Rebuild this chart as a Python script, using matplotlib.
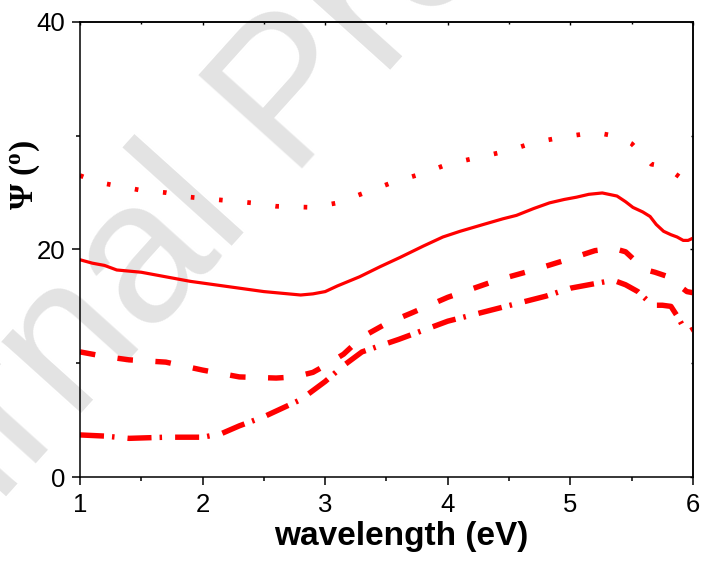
import matplotlib
matplotlib.use("Agg")
import matplotlib.pyplot as plt

plt.rcParams['lines.scale_dashes'] = False
plt.rcParams['mathtext.default'] = 'regular'

# ---- data ----
x_solid = [1.0, 1.1, 1.2, 1.3, 1.5, 1.7, 1.9, 2.1, 2.3, 2.5, 2.7, 2.8, 2.9, 3.0, 3.1,
           3.28, 3.45, 3.61, 3.8, 3.96, 4.1, 4.29, 4.45, 4.56, 4.7, 4.83, 4.95, 5.05,
           5.15, 5.26, 5.38, 5.45, 5.51, 5.59, 5.65, 5.7, 5.76, 5.82, 5.87, 5.92, 5.96, 6.0]
y_solid = [19.1, 18.8, 18.6, 18.2, 18.0, 17.6, 17.2, 16.9, 16.6, 16.3, 16.1, 16.0, 16.1, 16.3, 16.8,
           17.6, 18.5, 19.3, 20.3, 21.1, 21.6, 22.2, 22.7, 23.0, 23.6, 24.1, 24.4, 24.6,
           24.85, 24.97, 24.7, 24.2, 23.7, 23.3, 22.9, 22.2, 21.6, 21.3, 21.1, 20.8, 20.8, 21.0]

x_dot = [1.0, 1.15, 1.3, 1.5, 1.7, 1.9, 2.2, 2.4, 2.6, 2.9, 3.1, 3.3, 3.55, 3.8, 4.0,
         4.25, 4.5, 4.7, 4.95, 5.2, 5.4, 5.5, 5.6, 5.66, 5.77, 5.85, 5.9, 6.0]
y_dot = [26.5, 25.9, 25.6, 25.2, 25.0, 24.6, 24.3, 24.1, 23.8, 23.7, 24.1, 24.9, 25.9, 26.7, 27.5,
         28.1, 28.7, 29.4, 29.9, 30.3, 29.9, 29.3, 28.2, 27.5, 27.3, 26.7, 26.3, 26.5]

x_dash = [1.0, 1.2, 1.4, 1.7, 2.0, 2.3, 2.6, 2.75, 2.9, 3.0, 3.15, 3.3, 3.5, 3.7, 4.0,
          4.4, 4.7, 5.0, 5.2, 5.35, 5.45, 5.55, 5.62, 5.69, 5.8, 5.89, 5.95, 6.0]
y_dash = [11.0, 10.6, 10.3, 10.1, 9.4, 8.8, 8.7, 8.8, 9.2, 9.8, 10.8, 12.3, 13.5, 14.4, 15.8,
          17.3, 18.2, 19.2, 19.9, 20.1, 19.8, 18.8, 18.2, 18.0, 17.6, 16.8, 16.3, 16.2]

x_dashdot = [1.0, 1.2, 1.4, 1.7, 2.0, 2.15, 2.3, 2.5, 2.6, 2.8, 3.0, 3.15, 3.3, 3.6, 4.0,
             4.4, 4.8, 5.0, 5.2, 5.35, 5.45, 5.55, 5.62, 5.67, 5.75, 5.82, 5.88, 5.93, 5.97, 6.0]
y_dashdot = [3.7, 3.6, 3.4, 3.5, 3.5, 3.8, 4.5, 5.3, 5.8, 6.8, 8.4, 9.8, 11.0, 12.1, 13.7,
             14.8, 15.9, 16.6, 17.0, 17.3, 16.9, 16.3, 15.6, 15.1, 15.1, 15.0, 14.0, 13.0, 12.8, 13.0]

x_ticks = [1, 2, 3, 4, 5, 6]
y_ticks = [0, 20, 40]
x_minor = [1.5, 2.5, 3.5, 4.5, 5.5]
y_minor = [10, 30]

# ---- figure ----
fig = plt.figure(figsize=(7.01, 5.62), dpi=100)
ax = fig.add_axes([0.1141, 0.1512, 0.8745, 0.8097])
ax.patch.set_visible(False)

# watermark
fig.text(0.474, 0.762, 'Journal Pre-proof', rotation=48, rotation_mode='anchor',
         ha='center', va='baseline', fontsize=146, color='#e3e3e3',
         family='Liberation Sans', zorder=-5)

red = '#ff0000'
ax.plot(x_dot, y_dot, color=red, lw=3.4, linestyle=(0, (2.6, 17.8)), dash_capstyle='butt')
ax.plot(x_solid, y_solid, color=red, lw=2.3, solid_joinstyle='round')
ax.plot(x_dash, y_dash, color=red, lw=3.9, linestyle=(0, (11.2, 16.2)), dash_capstyle='butt')
ax.plot(x_dashdot, y_dashdot, color=red, lw=3.9,
        linestyle=(0, (17.3, 5.8, 1.8, 9.4)), dash_capstyle='butt')

ax.set_xlim(1, 6)
ax.set_ylim(0, 40)
ax.set_xticks(x_ticks)
ax.set_yticks(y_ticks)
ax.set_xticks(x_minor, minor=True)
ax.set_yticks(y_minor, minor=True)

for s in ax.spines.values():
    s.set_linewidth(1.1)

ax.tick_params(which='both', direction='out', top=False, right=False, width=1.1)
ax.tick_params(which='major', length=5.8)
ax.tick_params(which='minor', length=2.9)
ax.tick_params(axis='x', which='major', pad=6)
ax.tick_params(axis='y', which='major', pad=5)
for lab in ax.get_xticklabels() + ax.get_yticklabels():
    lab.set_fontfamily('Liberation Sans')
    lab.set_fontsize(18.5)

# short inward ticks on top and right
secx = ax.secondary_xaxis('top')
secx.set_xticks(x_ticks)
secx.set_xticks(x_minor, minor=True)
secx.tick_params(which='both', direction='in', labeltop=False, width=1.0)
secx.tick_params(which='major', length=2.5)
secx.tick_params(which='minor', length=1.5)
secy = ax.secondary_yaxis('right')
secy.set_yticks(y_ticks)
secy.set_yticks(y_minor, minor=True)
secy.tick_params(which='both', direction='in', labelright=False, width=1.0)
secy.tick_params(which='major', length=2.5)
secy.tick_params(which='minor', length=1.5)
for sa in (secx, secy):
    for s in sa.spines.values():
        s.set_linewidth(1.1)

ax.set_xlabel('wavelength (eV)', fontfamily='Liberation Sans', fontweight='bold', fontsize=24)
ax.xaxis.set_label_coords(0.524, -0.097)
ax.set_ylabel(r'Ψ ($^{o}$)', fontfamily='Liberation Serif', fontweight='bold', fontsize=24)
ax.yaxis.set_label_coords(-0.062, 0.664)

fig.savefig('out.png', dpi=100)
